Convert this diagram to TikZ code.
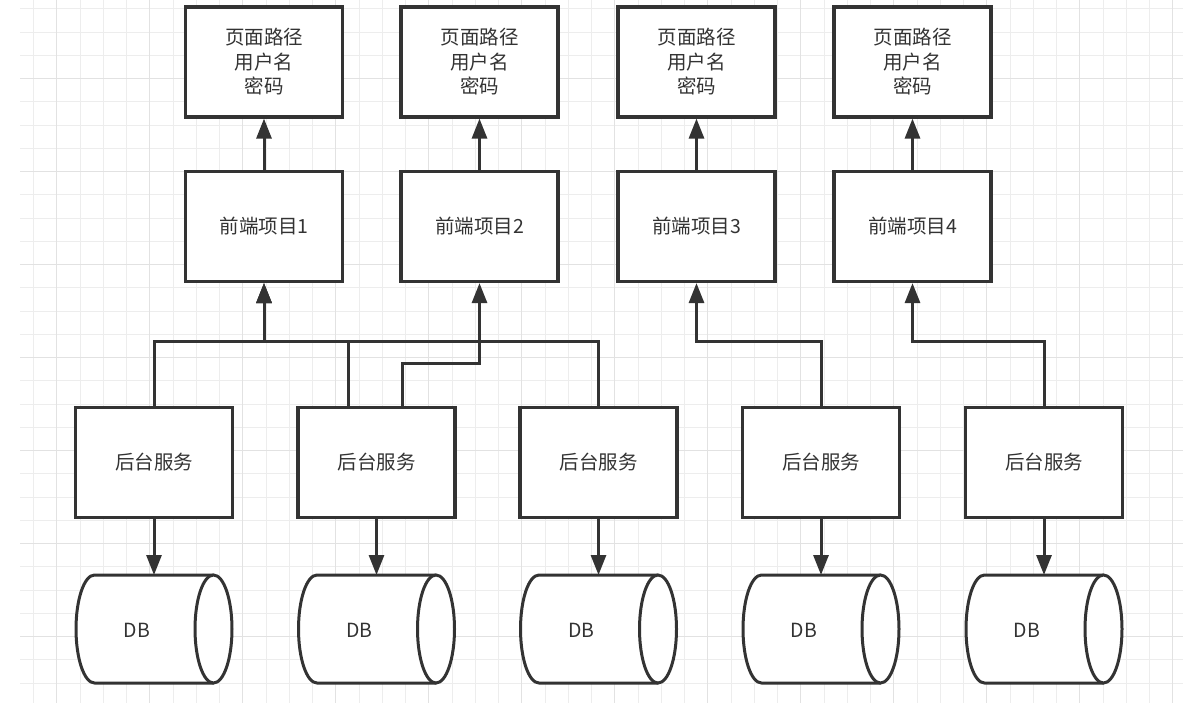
\documentclass[tikz,border=0pt]{standalone}
\usepackage{fontspec}
\setmainfont{Noto Sans CJK SC}
\usetikzlibrary{arrows.meta}
\definecolor{ink}{HTML}{333333}
\definecolor{gridc}{HTML}{EDEDED}
\definecolor{gridd}{HTML}{E2E2E2}
\begin{document}
\begin{tikzpicture}[x=1pt,y=-1pt,
  box/.style={draw=ink, line width=3.2pt, fill=white, minimum width=157pt,
    minimum height=110pt, inner sep=0pt, text=ink, align=center,
    font=\fontsize{19.5}{24.5}\selectfont},
  conn/.style={draw=ink, line width=3pt, line join=miter,
    -{Triangle[length=20pt,width=15pt]}},
  gridline/.style={draw=gridc, line width=1pt},
  gridmajor/.style={draw=gridd, line width=1.2pt},
  dbcyl/.pic={
    \path[draw=ink, line width=3pt, fill=white]
      (59.5,-54) -- (-59.5,-54)
      arc[start angle=90, end angle=270, x radius=18.5pt, y radius=54pt]
      -- (59.5,54);
    \path[draw=ink, line width=3pt, fill=white]
      (59.5,0) ellipse [x radius=18.5pt, y radius=54pt];
    \node[text=ink, font=\fontsize{19.5}{24.5}\selectfont] (-label) at (-17,1) {DB};
    \coordinate (-top) at (0,-54);
  }]
\useasboundingbox (0,0) rectangle (1199,720);
\fill[white] (0,0) rectangle (1199,720);
% grid
\foreach \k in {0,...,49} \draw[gridline] ({33.5+23.25*\k},0) -- ({33.5+23.25*\k},703);
\foreach \k in {0,...,29} \draw[gridline] (20,{8.75+23.25*\k}) -- (1183,{8.75+23.25*\k});
\foreach \k in {1,5,...,49} \draw[gridmajor] ({33.5+23.25*\k},0) -- ({33.5+23.25*\k},703);
\foreach \k in {3,7,...,27} \draw[gridmajor] (20,{8.75+23.25*\k}) -- (1183,{8.75+23.25*\k});

% top boxes
\node[box] (pg1) at (264,62) {页面路径\\用户名\\密码};
\node[box] (pg2) at (479.5,62) {页面路径\\用户名\\密码};
\node[box] (pg3) at (696.5,62) {页面路径\\用户名\\密码};
\node[box] (pg4) at (912.5,62) {页面路径\\用户名\\密码};
% frontend
\node[box] (fe1) at (264,226.5) {前端项目1};
\node[box] (fe2) at (479.5,226.5) {前端项目2};
\node[box] (fe3) at (696.5,226.5) {前端项目3};
\node[box] (fe4) at (912.5,226.5) {前端项目4};
% backend
\node[box] (be1) at (154,462.5) {后台服务};
\node[box] (be2) at (376.5,462.5) {后台服务};
\node[box] (be3) at (598.5,462.5) {后台服务};
\node[box] (be4) at (821,462.5) {后台服务};
\node[box] (be5) at (1044,462.5) {后台服务};
% DBs
\pic (db1) at (154,629) {dbcyl};
\pic (db2) at (376.5,629) {dbcyl};
\pic (db3) at (598.5,629) {dbcyl};
\pic (db4) at (821,629) {dbcyl};
\pic (db5) at (1044,629) {dbcyl};

% arrows frontend -> top
\foreach \i in {1,2,3,4} \draw[conn] (fe\i.north) -- (pg\i.south);
% arrows backend -> db
\foreach \i in {1,2,3,4,5} \draw[conn] (be\i.south) -- (db\i-top);
% backend -> frontend
\draw[conn] (be1.north) -- ++(0,-64) -| (fe1.south);
\draw[conn] ([xshift=-28.5pt]be2.north) -- ++(0,-64) -| (fe1.south);
\draw[conn] ([xshift=25.5pt]be2.north) -- ++(0,-42) -| (fe2.south);
\draw[conn] (be3.north) -- ++(0,-64) -| (fe1.south);
\draw[conn] (be4.north) -- ++(0,-64) -| (fe3.south);
\draw[conn] (be5.north) -- ++(0,-64) -| (fe4.south);
\end{tikzpicture}
\end{document}
